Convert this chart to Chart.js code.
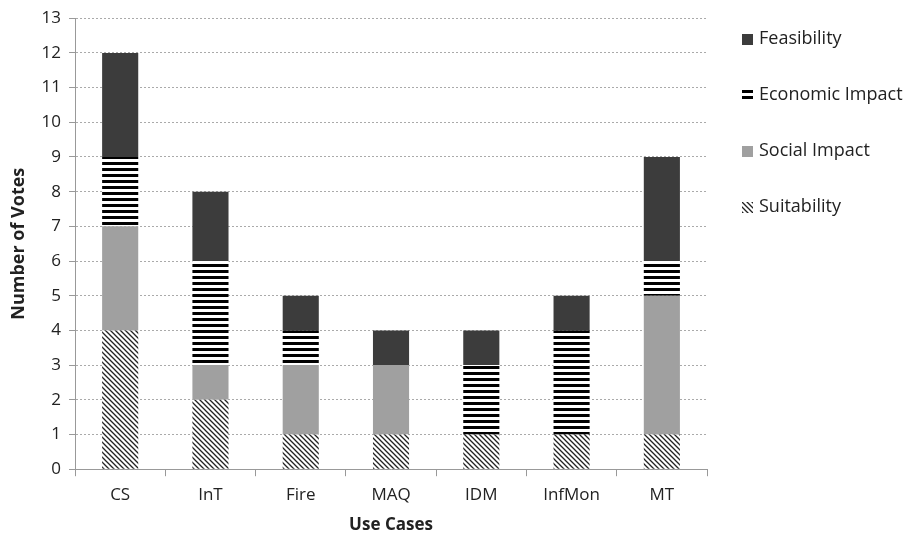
<!DOCTYPE html>
<html>
<head>
<meta charset="utf-8">
<script src="https://cdn.jsdelivr.net/npm/chart.js@4.4.0/dist/chart.umd.min.js"></script>
<style>
  html, body { margin: 0; padding: 0; background: #fff; }
  #wrap { width: 907px; height: 537px; }
</style>
</head>
<body>
<div id="wrap"><canvas id="votesChart" width="907" height="537"></canvas></div>
<script>
// use cases and votes per criterion
const useCases = ["CS", "InT", "Fire", "MAQ", "IDM", "InfMon", "MT"];
const suitability = [4, 2, 1, 1, 1, 1, 1];
const socialImpact = [3, 1, 2, 2, 0, 0, 4];
const economicImpact = [2, 3, 1, 0, 2, 3, 1];
const feasibility = [3, 2, 1, 1, 1, 1, 3];

// hatch patterns
function stripePattern() {
  const c = document.createElement("canvas");
  c.width = 6; c.height = 6;
  const g = c.getContext("2d");
  g.fillStyle = "#fff";
  g.fillRect(0, 0, 6, 6);
  g.fillStyle = "#000";
  g.fillRect(0, 0, 6, 3);
  return g.createPattern(c, "repeat");
}
function diagPattern() {
  const c = document.createElement("canvas");
  c.width = 5; c.height = 5;
  const g = c.getContext("2d");
  g.fillStyle = "#fff";
  g.fillRect(0, 0, 5, 5);
  g.strokeStyle = "#222";
  g.lineWidth = 1.3;
  g.beginPath();
  g.moveTo(-1, -1); g.lineTo(6, 6);
  g.moveTo(-1, 4); g.lineTo(1, 6);
  g.moveTo(4, -1); g.lineTo(6, 1);
  g.stroke();
  return g.createPattern(c, "repeat");
}

const font = "'Open Sans', 'Liberation Sans', sans-serif";

// legend on the right, drawn by hand so the spacing matches
const sideLegend = {
  id: "sideLegend",
  afterDraw(chart) {
    const ctx = chart.ctx;
    const sets = chart.data.datasets.slice().reverse();
    const x = chart.chartArea.right + 35;
    let y = 39;
    ctx.save();
    ctx.font = "18px " + font;
    ctx.textBaseline = "middle";
    sets.forEach(ds => {
      ctx.fillStyle = ds.backgroundColor;
      ctx.fillRect(x, y - 5, 11, 11);
      ctx.fillStyle = "#222";
      ctx.fillText(ds.label, x + 17, y);
      y += 56;
    });
    ctx.restore();
  }
};

new Chart("votesChart", {
  type: "bar",
  data: {
    labels: useCases,
    datasets: [
      { label: "Suitability", data: suitability, backgroundColor: diagPattern() },
      { label: "Social Impact", data: socialImpact, backgroundColor: "#a0a0a0" },
      { label: "Economic Impact", data: economicImpact, backgroundColor: stripePattern() },
      { label: "Feasibility", data: feasibility, backgroundColor: "#3c3c3c" }
    ]
  },
  plugins: [sideLegend],
  options: {
    responsive: false,
    animation: false,
    barPercentage: 0.8,
    categoryPercentage: 0.5,
    layout: { padding: { top: 12, right: 200, left: 4, bottom: 0 } },
    plugins: {
      legend: { display: false },
      tooltip: { enabled: false }
    },
    scales: {
      x: {
        stacked: true,
        grid: { drawOnChartArea: false, drawTicks: true, tickLength: 7, color: "#999" },
        border: { color: "#999" },
        ticks: { color: "#222", padding: 9, font: { family: font, size: 17 } },
        title: { display: true, text: "Use Cases", color: "#222", padding: { top: 0, bottom: 2 }, font: { family: font, size: 17, weight: "bold" } }
      },
      y: {
        stacked: true,
        min: 0,
        max: 13,
        ticks: { stepSize: 1, color: "#222", padding: 8, font: { family: font, size: 17 } },
        grid: { color: "#aaa", tickLength: 6, tickColor: "#999" },
        border: { color: "#999", dash: [2, 2] },
        title: { display: true, text: "Number of Votes", color: "#222", padding: { bottom: 4 }, font: { family: font, size: 18, weight: "bold" } }
      }
    }
  }
});
</script>
</body>
</html>
